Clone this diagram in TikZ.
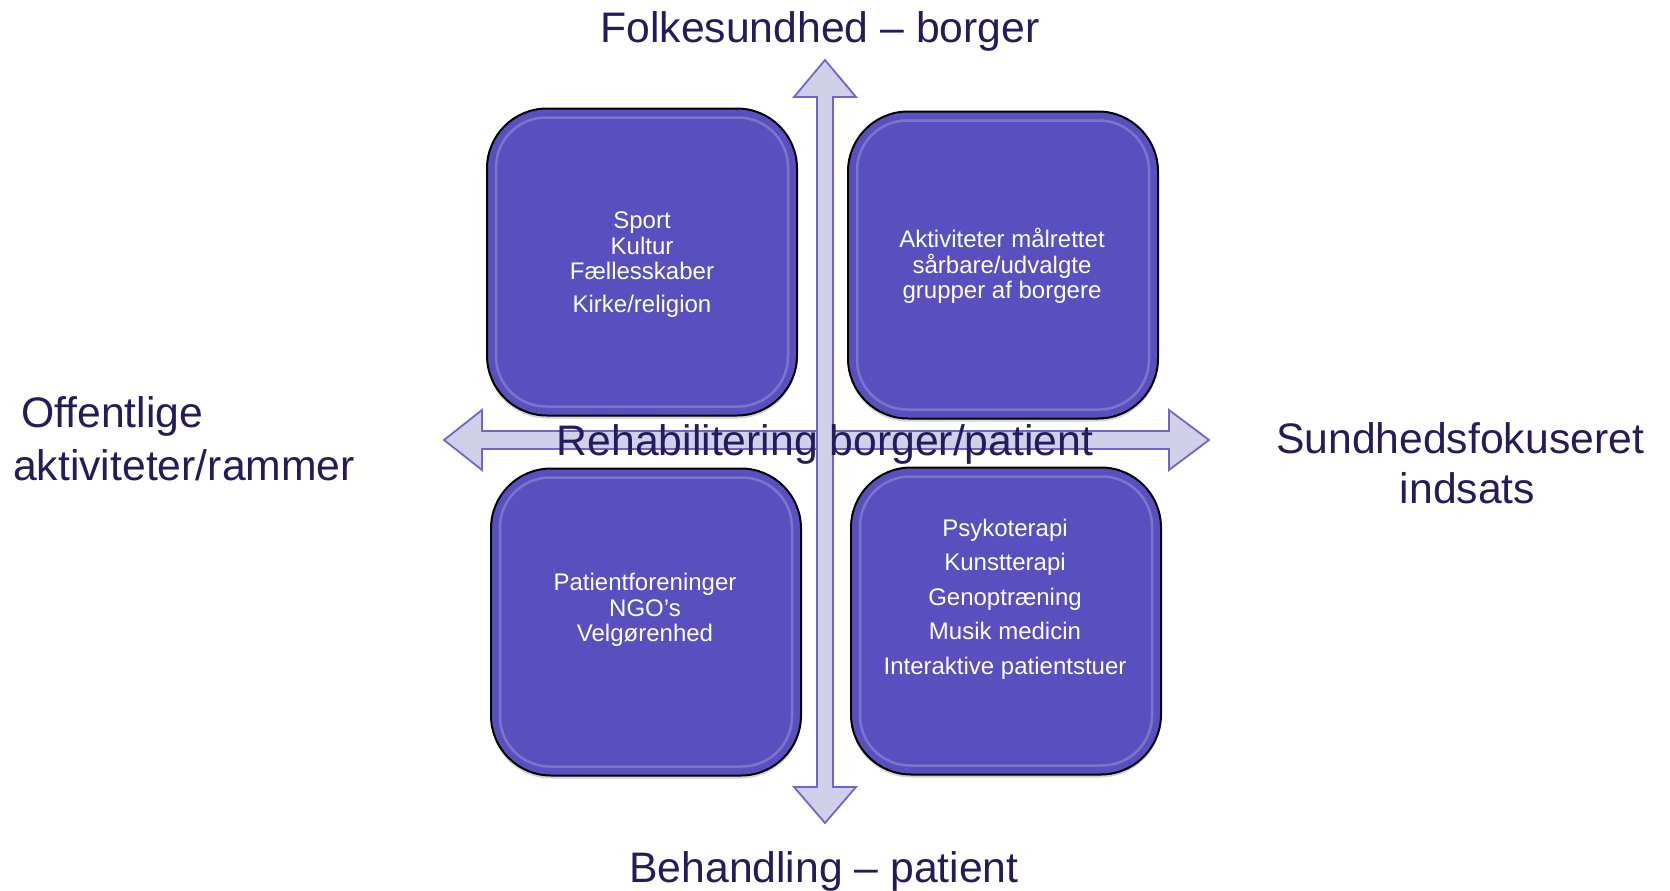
\documentclass[tikz,border=0pt]{standalone}
\usepackage{fontspec}
\setmainfont{Liberation Sans}
\usepackage{xcolor}
\usepackage{tikz}
\usetikzlibrary{positioning,calc,shadows}
\definecolor{QuadFill}{RGB}{89,79,190}
\definecolor{AxisFill}{RGB}{210,207,232}
\definecolor{AxisLine}{RGB}{110,101,206}
\definecolor{AxisText}{RGB}{35,28,90}
\tikzset{
    quadbox/.style={rectangle, rounded corners=60pt, draw=black, line width=2pt, fill=QuadFill, minimum width=310pt, minimum height=307pt, inner sep=0pt, drop shadow={opacity=0.35, shadow xshift=0pt, shadow yshift=-3pt}},
    axisarrow/.style={fill=AxisFill, draw=AxisLine, line width=1.8pt, line join=miter},
    axislabel/.style={text=AxisText, font=\fontsize{42.7}{53}\selectfont, inner sep=0pt}
}

\begin{document}
\begin{tikzpicture}[
        x=1pt, y=-1pt,
        % --- TEKST I BOKSENE ---
        boxtext/.style={
            text=white,
            align=center,
            inner sep=0pt,
            font=\fontsize{24}{25.5}\selectfont
        },
        % Lys kant inde i boksene
        gloss/.style={
            draw=white,
            opacity=0.22,
            line width=2.5pt,
            rounded corners=50pt
        }
    ]
    \useasboundingbox (0,0) rectangle (1670,891);

        % --- AKSER (DOBBELTPILE) ---
        \draw[axisarrow] (444,440) -- (482,410) -- (482,431) -- (1169,431) -- (1169,410) -- (1209,440)
            -- (1169,470) -- (1169,449) -- (482,449) -- (482,470) -- cycle;
        \draw[axisarrow] (825,60) -- (856,97) -- (833,97) -- (833,787) -- (856,787) -- (825,823)
            -- (794,787) -- (817,787) -- (817,97) -- (794,97) -- cycle;

        % --- DE FIRE BOKSE ---
        \node[quadbox] (sport) at (642,262) {};
        \node[quadbox] (maal) at (1003,265) {};
        \node[quadbox] (ngo) at (646,622) {};
        \node[quadbox] (terapi) at (1006,621) {};

        \foreach \b in {sport, maal, ngo, terapi} {
            \draw[gloss] ($(\b.north west)+(10,10)$) rectangle ($(\b.south east)+(-10,-10)$);
        }

        % --- TEKST ---
        \node[boxtext] (sporttxt) at (642,265) {Sport\\Kultur\\Fællesskaber\\[7.5pt]Kirke/religion};
        \node[boxtext] (maaltxt) at (1002,266) {Aktiviteter målrettet\\sårbare/udvalgte\\grupper af borgere};
        \node[boxtext] (ngotxt) at (645,610) {Patientforeninger\\NGO’s\\Velgørenhed};
        \node[boxtext, font=\fontsize{24}{34.5}\selectfont] (terapitxt) at (1005,599)
            {Psykoterapi\\Kunstterapi\\Genoptræning\\Musik medicin\\Interaktive patientstuer};

        % --- AKSETEKSTER ---
        \node[axislabel, anchor=base] (folk) at (820,43) {Folkesundhed – borger};
        \node[axislabel, anchor=base] (behandling) at (824,882) {Behandling – patient};
        \node[axislabel, anchor=base] (rehab) at (825,455) {Rehabilitering borger/patient};
        \node[axislabel, anchor=north west, align=left] (offentlig) at (13,396)
            {\hspace{8pt}Offentlige\\aktiviteter/rammer};
        \node[axislabel, anchor=north, align=center, font=\fontsize{42.7}{50}\selectfont] (sundhed) at (1460,422)
            {Sundhedsfokuseret\\\hspace*{15pt}indsats};

    \end{tikzpicture}
\end{document}
